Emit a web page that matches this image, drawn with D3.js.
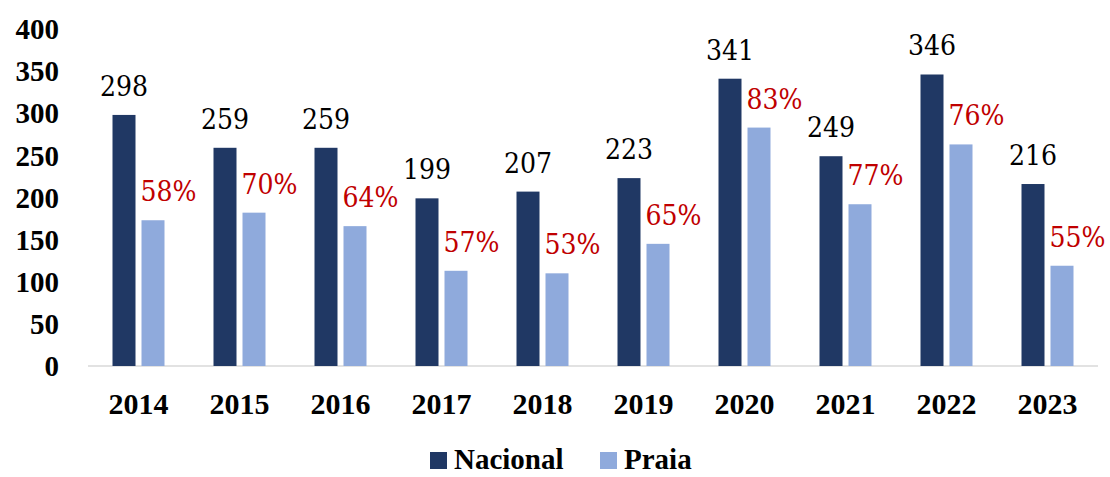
<!DOCTYPE html>
<html>
<head>
<meta charset="utf-8">
<script src="https://cdn.jsdelivr.net/npm/d3@7"></script>
<style>
  body { margin: 0; background: #fff; }
  svg text { font-family: "Times New Roman", "Liberation Serif", Times, serif; }
  svg text.lbl { font-family: "DejaVu Serif Condensed", "DejaVu Serif", serif; }
</style>
</head>
<body>
<script>
// data
var years = ["2014", "2015", "2016", "2017", "2018", "2019", "2020", "2021", "2022", "2023"];
var nacional = [298, 259, 259, 199, 207, 223, 341, 249, 346, 216];
var praia = [173, 182, 166, 113, 110, 145, 283, 192, 263, 119];
var praiaPct = ["58%", "70%", "64%", "57%", "53%", "65%", "83%", "77%", "76%", "55%"];
var yTicks = [0, 50, 100, 150, 200, 250, 300, 350, 400];

var W = 1110, H = 477;
var margin = { top: 29, right: 12, bottom: 111, left: 88 },
    width = W - margin.left - margin.right,
    height = H - margin.top - margin.bottom;

var svg = d3.select("body").append("svg")
    .attr("width", W)
    .attr("height", H);

var g = svg.append("g")
    .attr("transform", "translate(" + margin.left + "," + margin.top + ")");

var x = d3.scaleBand()
    .domain(years)
    .range([0, width])
    .padding(0);

var y = d3.scaleLinear()
    .domain([0, 400])
    .range([height, 0]);

var barW = 23, gap = 6;
var offNac = x.bandwidth() / 2 - barW - gap / 2;
var offPraia = x.bandwidth() / 2 + gap / 2;

// y axis labels (no line)
g.selectAll(".ytick")
    .data(yTicks)
    .enter().append("text")
    .attr("x", -29)
    .attr("y", function (d) { return y(d); })
    .attr("dy", "0.35em")
    .attr("text-anchor", "end")
    .style("font-size", "29px")
    .style("font-weight", "bold")
    .text(function (d) { return d; });

// baseline
g.append("line")
    .attr("x1", 0).attr("x2", width)
    .attr("y1", y(0)).attr("y2", y(0))
    .attr("stroke", "#d9d9d9")
    .attr("stroke-width", 1.5);

// x labels
g.selectAll(".xtick")
    .data(years)
    .enter().append("text")
    .attr("x", function (d) { return x(d) + x.bandwidth() / 2; })
    .attr("y", height + 48)
    .attr("text-anchor", "middle")
    .style("font-size", "30px")
    .style("font-weight", "bold")
    .text(function (d) { return d; });

// bars
g.selectAll(".nac")
    .data(nacional)
    .enter().append("rect")
    .attr("x", function (d, i) { return x(years[i]) + offNac; })
    .attr("y", function (d) { return y(d); })
    .attr("width", barW)
    .attr("height", function (d) { return y(0) - y(d); })
    .attr("fill", "#203864");

g.selectAll(".praia")
    .data(praia)
    .enter().append("rect")
    .attr("x", function (d, i) { return x(years[i]) + offPraia; })
    .attr("y", function (d) { return y(d); })
    .attr("width", barW)
    .attr("height", function (d) { return y(0) - y(d); })
    .attr("fill", "#8faadc");

// value labels
g.selectAll(".nacLbl")
    .data(nacional)
    .enter().append("text")
    .attr("class", "lbl")
    .attr("x", function (d, i) { return x(years[i]) + offNac + barW / 2; })
    .attr("y", function (d) { return y(d) - 19; })
    .attr("text-anchor", "middle")
    .style("font-size", "28px")
    .attr("fill", "#000")
    .text(function (d) { return d; });

g.selectAll(".pctLbl")
    .data(praia)
    .enter().append("text")
    .attr("class", "lbl")
    .attr("x", function (d, i) { return x(years[i]) + offPraia - 1; })
    .attr("y", function (d) { return y(d) - 19; })
    .attr("text-anchor", "start")
    .style("font-size", "28px")
    .attr("fill", "#c00000")
    .text(function (d, i) { return praiaPct[i]; });

// legend
var legend = [{ name: "Nacional", color: "#203864", x: 430 }, { name: "Praia", color: "#8faadc", x: 600 }];
var lg = svg.selectAll(".legend")
    .data(legend)
    .enter().append("g")
    .attr("transform", function (d) { return "translate(" + d.x + ",452)"; });
lg.append("rect")
    .attr("width", 17).attr("height", 17)
    .attr("fill", function (d) { return d.color; });
lg.append("text")
    .attr("x", 24)
    .attr("y", 17)
    .style("font-size", "29px")
    .style("font-weight", "bold")
    .text(function (d) { return d.name; });
</script>
</body>
</html>
